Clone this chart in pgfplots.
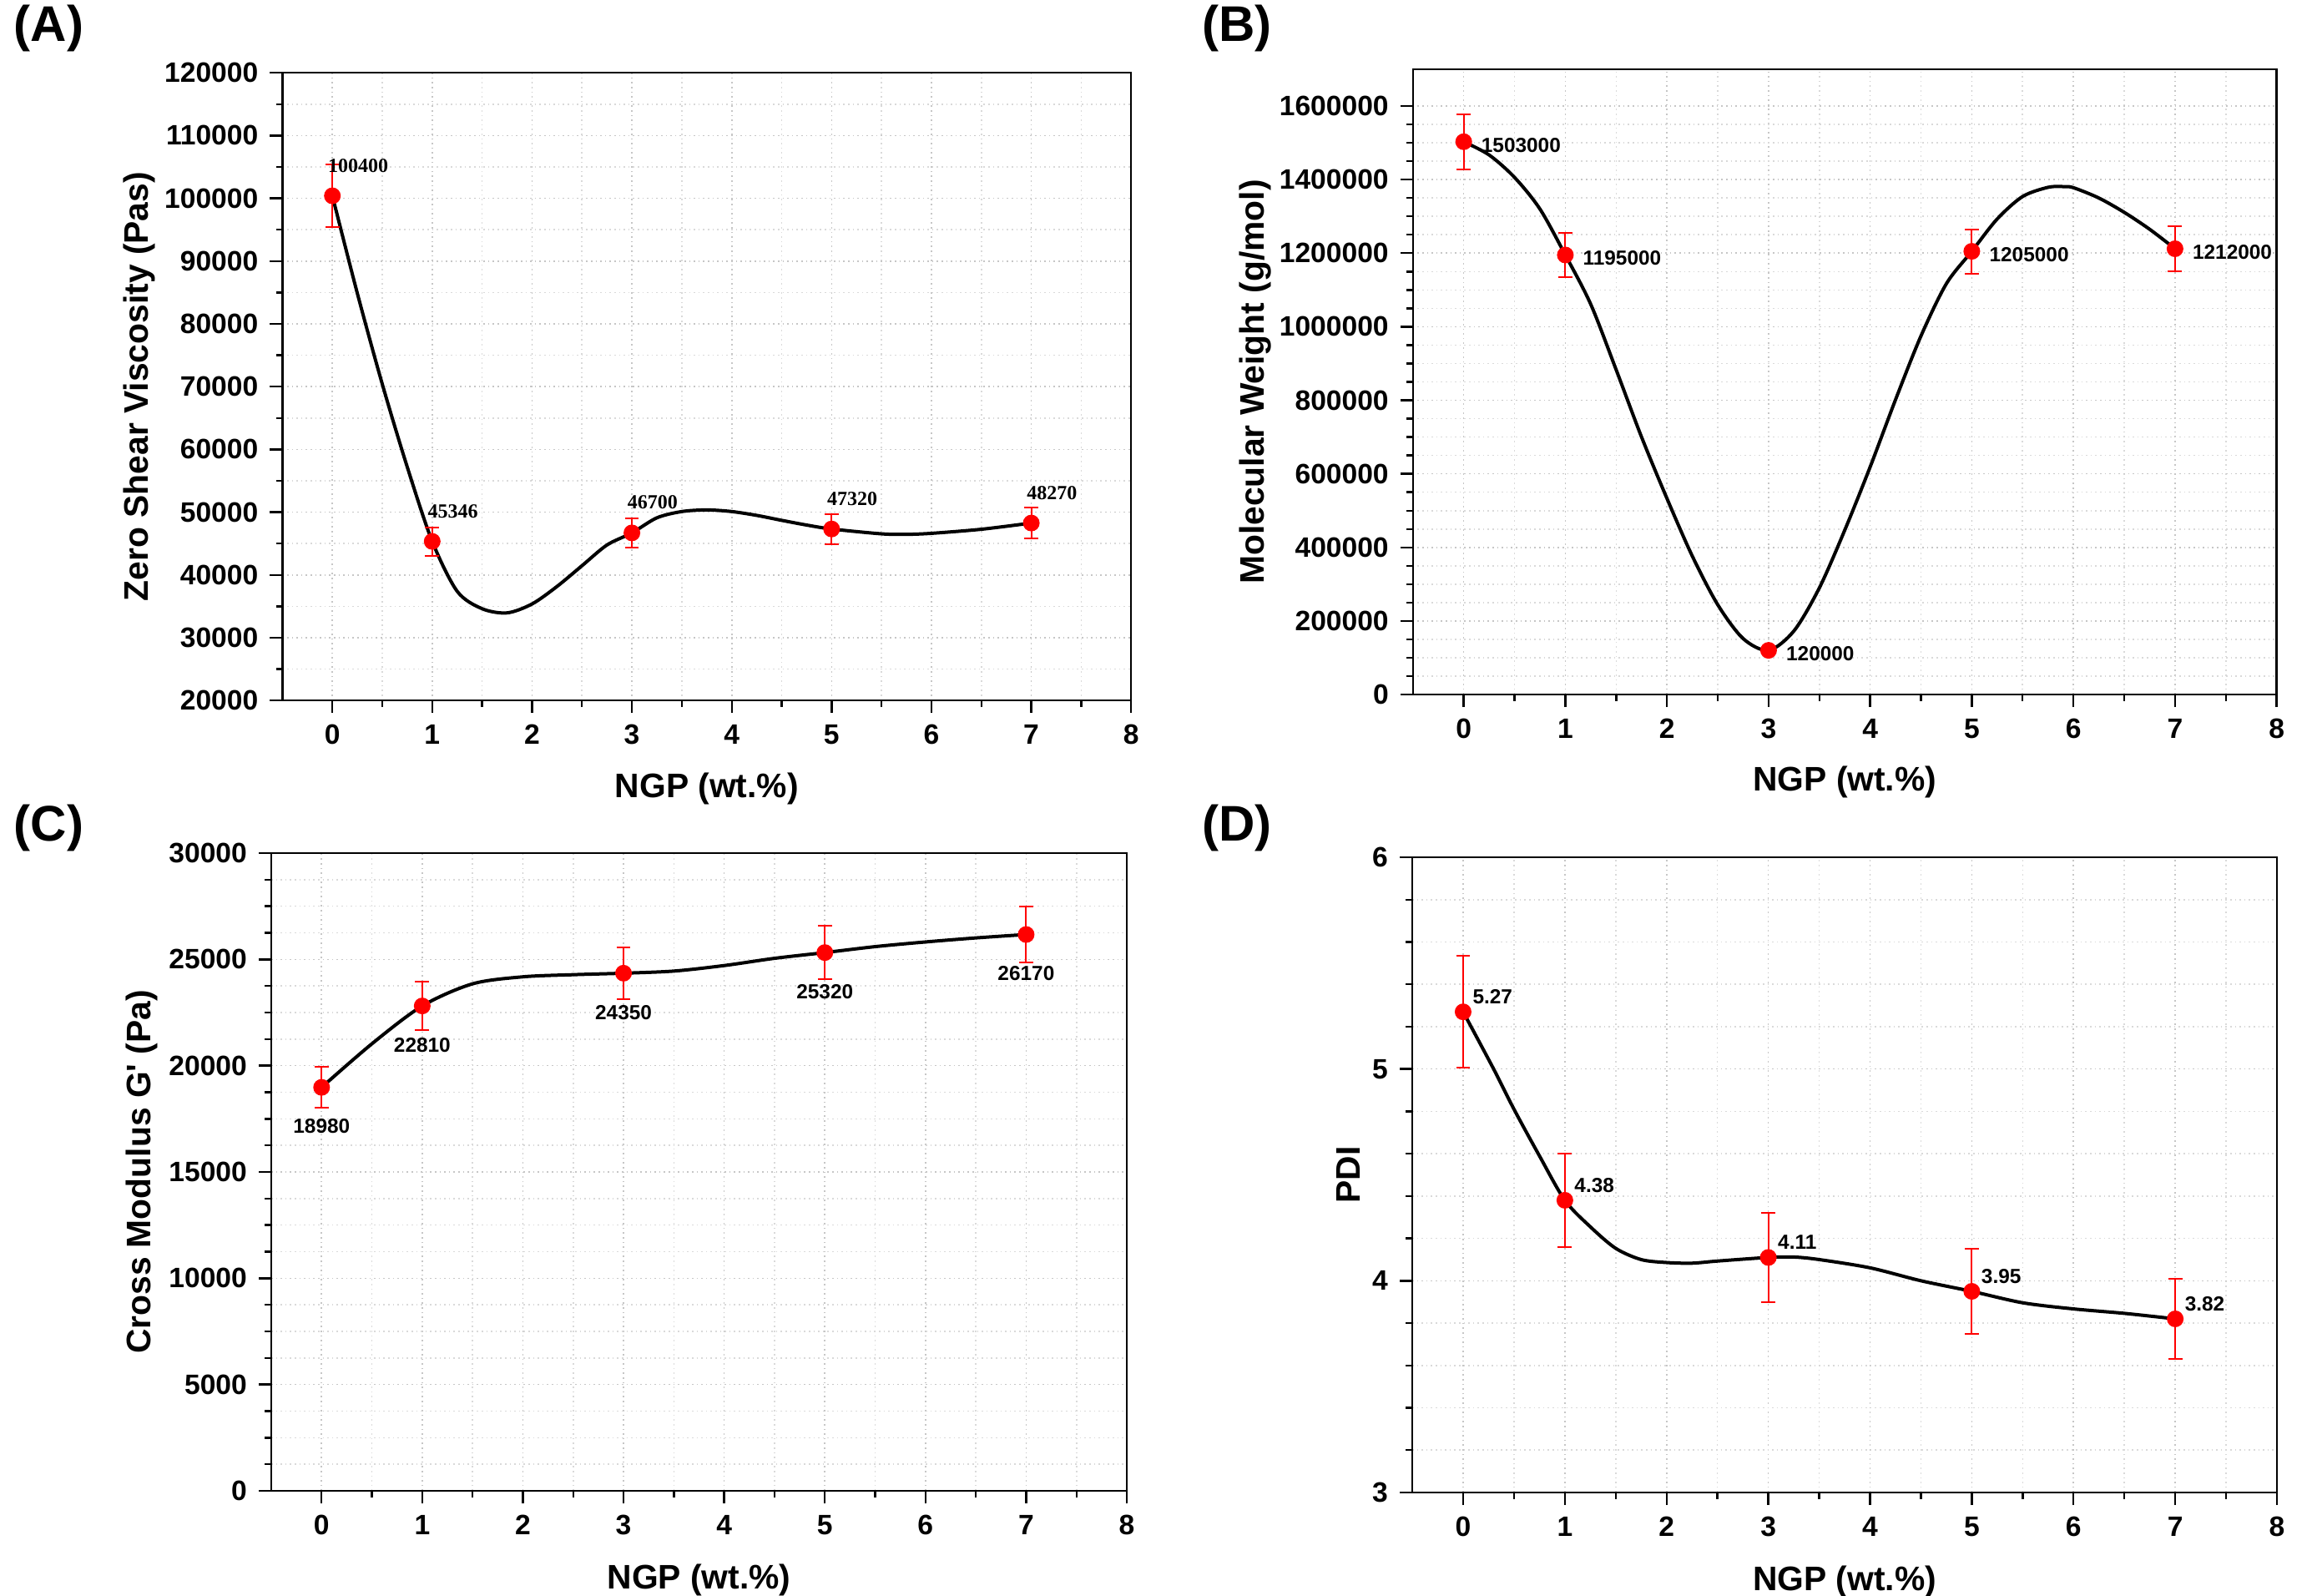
\documentclass[border=0pt]{standalone}
\usepackage{pgfplots}
\pgfplotsset{compat=1.18}
\usepackage{pgfplotstable}
\usepackage{fontspec}
\setmainfont{Liberation Sans}
\newfontfamily\serifnum{Liberation Serif}

\pgfplotstableread{
x y e lab
0 100400 5020 100400
1 45346 2270 45346
3 46700 2340 46700
5 47320 2370 47320
7 48270 2410 48270
}\dataA
\pgfplotstableread{
x y e lab
0 1503000 75150 1503000
1 1195000 59750 1195000
3 120000 6000 120000
5 1205000 60250 1205000
7 1212000 60600 1212000
}\dataB
\pgfplotstableread{
x y e lab
0 18980 950 18980
1 22810 1140 22810
3 24350 1220 24350
5 25320 1266 25320
7 26170 1310 26170
}\dataC
\pgfplotstableread{
x y e lab
0 5.27 0.265 5.27
1 4.38 0.22 4.38
3 4.11 0.21 4.11
5 3.95 0.20 3.95
7 3.82 0.19 3.82
}\dataD

\pgfplotsset{
  panel/.style={
    scale only axis, anchor=north west,
    xmin=-0.5, xmax=8, xtick={0,...,8}, minor x tick num=1,
    axis line style={line width=0.6pt},
    tick style={black, line width=0.6pt},
    tick align=outside, major tick length=3.75pt, minor tick length=1.9pt,
    tick pos=left,
    grid=both,
    major grid style={densely dotted, gray!45, line width=0.4pt},
    minor grid style={densely dotted, gray!30, line width=0.4pt},
    ticklabel style={font=\fontsize{8.4}{9}\selectfont\bfseries},
    label style={font=\fontsize{10.2}{12}\selectfont\bfseries},
    scaled ticks=false,
    yticklabel style={/pgf/number format/.cd, fixed, 1000 sep={}, assume math mode=true},
    xticklabel style={/pgf/number format/assume math mode=true},
    xlabel={NGP (wt.\%)},
    xlabel style={at={(axis description cs:0.5,-0.14)}, anchor=center},
  },
  curve/.style={black, line width=1pt, smooth, tension=0.5, no markers},
  pts/.style={only marks, mark=*, mark size=2.3pt, red, mark options={fill=red, draw=red},
    point meta=explicit symbolic, nodes near coords,
    error bars/y dir=both, error bars/y explicit,
    error bars/error bar style={red, line width=0.5pt},
    error bars/error mark options={rotate=90, red, mark size=2.1pt, line width=0.5pt}},
}

\begin{document}
\begin{tikzpicture}
% (A)
\begin{axis}[panel, at={(84.6pt,-21.8pt)}, width=254.2pt, height=188pt,
  ymin=20000, ymax=120000, ytick distance=10000, minor y tick num=1,
  ylabel={Zero Shear Viscosity (Pas)},
  ylabel style={at={(axis description cs:-0.169,0.5)}, anchor=center}]
\addplot[curve] coordinates {(0,100400) (0.25,84870) (0.5,70400) (0.75,57200) (1,45346) (1.25,37400) (1.5,34620) (1.75,33960) (2,35380) (2.25,38170) (2.5,41470) (2.75,44770) (3,46700) (3.25,49100) (3.5,50100) (3.75,50360) (4,50100) (4.25,49490) (4.5,48700) (4.75,47950) (5,47320) (5.5,46550) (5.75,46470) (6,46630) (6.5,47280) (7,48270)};
\addplot[pts, nodes near coords style={anchor=west, inner sep=0pt, xshift=-1.5pt, yshift=9.1pt, black, font=\fontsize{6}{7}\selectfont\serifnum\bfseries}]
  table[x=x, y=y, y error=e, meta=lab] {\dataA};
\end{axis}
% (B)
\begin{axis}[panel, at={(423.2pt,-20.75pt)}, width=258.7pt, height=187.25pt,
  ymin=0, ymax=1700000, ytick={0,200000,...,1600000}, minor y tick num=3,
  ylabel={Molecular Weight (g/mol)},
  ylabel style={at={(axis description cs:-0.182,0.5)}, anchor=center}]
\addplot[curve] coordinates {(0,1503000) (0.25,1467000) (0.5,1406000) (0.75,1320000) (1,1195000) (1.25,1061000) (1.5,883000) (1.75,700000) (2,533000) (2.25,376000) (2.5,244000) (2.75,152000) (3,120000) (3.25,173000) (3.5,290000) (3.75,447000) (4,619000) (4.25,802000) (4.5,975000) (4.75,1117000) (5,1205000) (5.25,1293000) (5.5,1354000) (5.75,1379000) (5.9,1381000) (6,1378000) (6.25,1350000) (6.5,1311000) (6.75,1265000) (7,1212000)};
\addplot[pts, nodes near coords style={anchor=west, inner sep=0pt, xshift=5.1pt, yshift=-1pt, black, font=\fontsize{6.1}{7}\selectfont\bfseries}]
  table[x=x, y=y, y error=e, meta=lab] {\dataB};
\end{axis}
% (C)
\begin{axis}[panel, at={(81.25pt,-255.5pt)}, width=256.25pt, height=191pt,
  ymin=0, ymax=30000, ytick distance=5000, minor y tick num=3,
  ylabel={Cross Modulus G{\addfontfeatures{Ligatures=TeXOff}'} (Pa)},
  ylabel style={at={(axis description cs:-0.151,0.5)}, anchor=center}]
\addplot[curve] coordinates {(0,18980) (0.5,21030) (1,22810) (1.5,23850) (2,24180) (2.5,24280) (3,24350) (3.5,24450) (4,24710) (4.5,25050) (5,25320) (5.5,25600) (6,25820) (6.5,26010) (7,26170)};
\addplot[pts, nodes near coords style={anchor=center, inner sep=0pt, yshift=-11.7pt, black, font=\fontsize{6.1}{7}\selectfont\bfseries}]
  table[x=x, y=y, y error=e, meta=lab] {\dataC};
\end{axis}
% (D)
\begin{axis}[panel, at={(423pt,-256.75pt)}, width=259pt, height=190.25pt,
  ymin=3, ymax=6, ytick={3,4,5,6}, minor y tick num=4,
  ylabel={PDI},
  ylabel style={at={(axis description cs:-0.074,0.5)}, anchor=center}]
\addplot[curve] coordinates {(0,5.27) (0.3,5.0) (0.5,4.81) (0.75,4.59) (1,4.38) (1.25,4.255) (1.5,4.153) (1.75,4.10) (2,4.086) (2.25,4.083) (2.5,4.093) (3,4.11) (3.25,4.112) (3.5,4.10) (4,4.061) (4.5,4.0) (5,3.95) (5.5,3.896) (6,3.867) (6.5,3.846) (7,3.82)};
\addplot[pts, nodes near coords style={anchor=west, inner sep=0pt, xshift=2.7pt, yshift=4.5pt, black, font=\fontsize{6.1}{7}\selectfont\bfseries}]
  table[x=x, y=y, y error=e, meta=lab] {\dataD};
\end{axis}
% panel letters
\node[anchor=north west, inner sep=0pt, font=\fontsize{15}{17}\selectfont\bfseries] at (4pt,-1.25pt) {(A)};
\node[anchor=north west, inner sep=0pt, font=\fontsize{15}{17}\selectfont\bfseries] at (359.8pt,-1.25pt) {(B)};
\node[anchor=north west, inner sep=0pt, font=\fontsize{15}{17}\selectfont\bfseries] at (4pt,-240.75pt) {(C)};
\node[anchor=north west, inner sep=0pt, font=\fontsize{15}{17}\selectfont\bfseries] at (359.8pt,-240.75pt) {(D)};
\pgfresetboundingbox
\path[use as bounding box] (0pt,0pt) rectangle (692.5pt,-478pt);
\end{tikzpicture}
\end{document}
